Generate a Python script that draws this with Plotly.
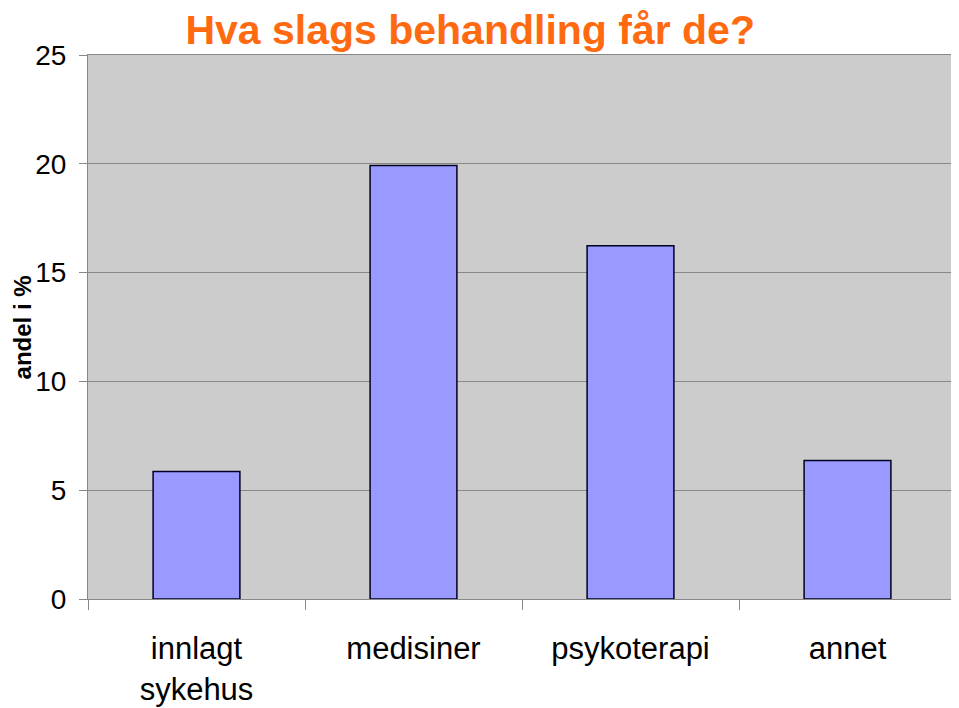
import plotly.graph_objects as go

categories = ["innlagt<br>sykehus", "medisiner", "psykoterapi", "annet"]
andel = [5.86, 19.92, 16.23, 6.37]
y_ticks = [0, 5, 10, 15, 20, 25]

font = "Liberation Sans, Arial, sans-serif"

fig = go.Figure()
fig.add_trace(go.Bar(
    x=categories, y=andel,
    marker=dict(color="#9999FF", line=dict(color="#000022", width=1.5)),
    width=0.4,
))

# page body adds an 8px margin, so the figure is sized to fit inside it
fig.update_layout(
    width=951, height=700,
    margin=dict(l=80, r=3, t=47, b=109),
    paper_bgcolor="white",
    plot_bgcolor="#CCCCCC",
    showlegend=False,
    font=dict(family=font, color="black"),
    title=dict(
        text="<b>Hva slags behandling får de?</b>",
        font=dict(family=font, size=41, color="#FF6A10"),
        x=0.486, xanchor="center", y=0.969, yanchor="middle",
    ),
)

fig.add_annotation(
    text="<b>andel i %</b>", textangle=-90,
    xref="paper", yref="paper", x=-0.0922, y=0.5,
    xanchor="left", yanchor="middle", showarrow=False, borderpad=0,
    font=dict(family=font, size=24, color="black"),
)

fig.update_yaxes(
    range=[0, 25], tickvals=y_ticks,
    showgrid=True, gridcolor="#888888", gridwidth=1,
    showline=True, linecolor="#888888", linewidth=1, mirror=True,
    ticks="outside", ticklen=8, tickcolor="#888888",
    tickfont=dict(size=28), ticklabelstandoff=7,
    zeroline=False, automargin=False,
)
fig.update_xaxes(
    showgrid=False,
    showline=True, linecolor="#888888", linewidth=1, mirror=True,
    ticks="outside", ticklen=10, tickcolor="#888888", tickson="boundaries",
    tickfont=dict(size=31), ticklabelstandoff=22, automargin=False,
)

fig.write_html("out.html")
